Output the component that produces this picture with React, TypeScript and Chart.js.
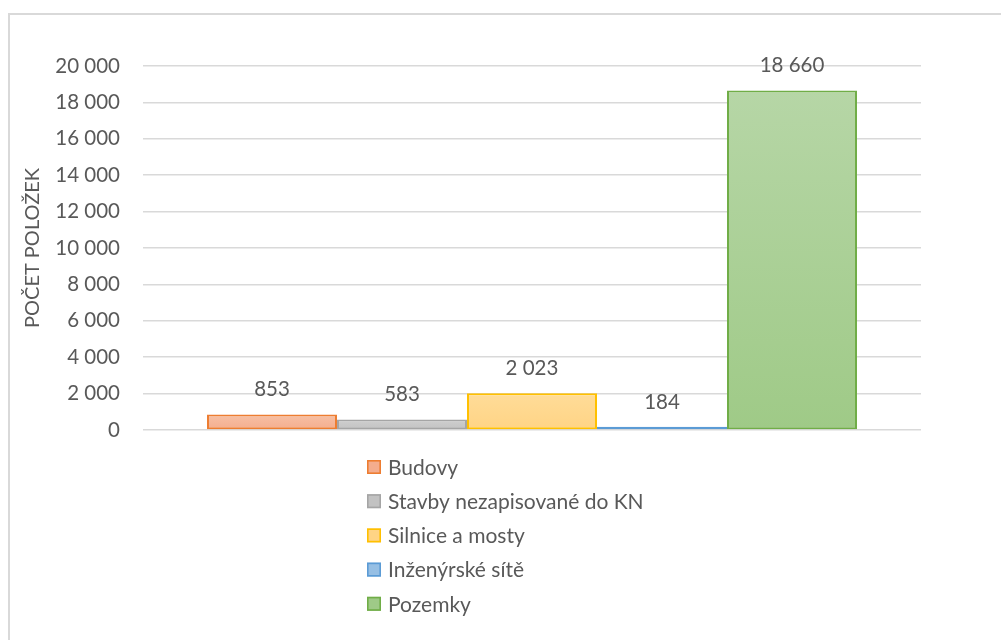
import React, { useEffect, useRef } from "react";
import { Chart, registerables } from "chart.js";

Chart.register(...registerables);

const categories = [""];
const seriesNames = ["Budovy", "Stavby nezapisované do KN", "Silnice a mosty", "Inženýrské sítě", "Pozemky"];
const seriesValues = [853, 583, 2023, 184, 18660];
const yTickMin = 0;
const yTickMax = 20000;
const yTickStep = 2000;
const axisTitle = "POČET POLOŽEK";

const fillTop = ["#F7C0A4", "#CFCFCF", "#FFDC98", "#A9CBEA", "#B6D6A6"];
const fillBottom = ["#F4AD8E", "#C2C2C2", "#FFD485", "#96BFE4", "#9FCA87"];
const borderColors = ["#ED7D31", "#A5A5A5", "#FFC000", "#5B9BD5", "#70AD47"];

const FONT = "Lato, 'Open Sans', sans-serif";
const TEXT = "#595959";

const fmt = (n: number) => String(n).replace(/\B(?=(\d{3})+(?!\d))/g, " ");

const dataLabelPlugin = {
  id: "dataLabels",
  afterDatasetsDraw(chart: any) {
    const ctx = chart.ctx;
    ctx.save();
    ctx.font = `20.5px ${FONT}`;
    ctx.fillStyle = TEXT;
    ctx.textAlign = "center";
    ctx.textBaseline = "alphabetic";
    chart.data.datasets.forEach((ds: any, i: number) => {
      const meta = chart.getDatasetMeta(i);
      meta.data.forEach((el: any, j: number) => {
        ctx.fillText(fmt(ds.data[j]), el.x, el.y - 18);
      });
    });
    ctx.restore();
  },
};

const legendPlugin = {
  id: "vertLegend",
  afterDraw(chart: any) {
    const ctx = chart.ctx;
    ctx.save();
    ctx.font = `21px ${FONT}`;
    const box = 14;
    const gap = 7;
    let maxW = 0;
    chart.data.datasets.forEach((ds: any) => {
      maxW = Math.max(maxW, ctx.measureText(ds.label).width);
    });
    const blockW = box + gap + maxW;
    const x0 = Math.round(505 - blockW / 2);
    const y0 = chart.chartArea.bottom + 37;
    const step = 34.2;
    chart.data.datasets.forEach((ds: any, i: number) => {
      const cy = y0 + i * step;
      ctx.fillStyle = fillBottom[i];
      ctx.fillRect(x0, cy - box / 2, box, box);
      ctx.strokeStyle = borderColors[i];
      ctx.lineWidth = 1.6;
      ctx.strokeRect(x0 + 0.8, cy - box / 2 + 0.8, box - 1.6, box - 1.6);
      ctx.fillStyle = TEXT;
      ctx.textAlign = "left";
      ctx.textBaseline = "middle";
      ctx.fillText(ds.label, x0 + box + gap, cy + 1);
    });
    ctx.restore();
  },
};

export default function App() {
  const ref = useRef<HTMLCanvasElement | null>(null);

  useEffect(() => {
    document.body.style.overflow = "hidden";
    const canvas = ref.current!;
    const datasets = seriesNames.map((name, i) => ({
      label: name,
      data: [seriesValues[i]],
      backgroundColor: (c: any) => {
        const chart = c.chart;
        if (!chart.chartArea || !chart.scales || !chart.scales.y) return fillBottom[i];
        const ys = chart.scales.y;
        const top = ys.getPixelForValue(seriesValues[i]);
        const bottom = ys.getPixelForValue(0);
        if (bottom - top < 2) return fillBottom[i];
        const g = chart.ctx.createLinearGradient(0, top, 0, bottom);
        g.addColorStop(0, fillTop[i]);
        g.addColorStop(1, fillBottom[i]);
        return g;
      },
      borderColor: borderColors[i],
      borderWidth: 2,
      borderSkipped: false,
      categoryPercentage: 0.8355,
      barPercentage: 1,
    }));

    const chart = new Chart(canvas, {
      type: "bar",
      data: { labels: categories, datasets },
      plugins: [dataLabelPlugin, legendPlugin],
      options: {
        responsive: false,
        animation: false,
        devicePixelRatio: 1,
        layout: { padding: { top: 66, right: 80, bottom: 210, left: 0 } },
        plugins: {
          legend: { display: false },
          tooltip: { enabled: false },
        },
        scales: {
          x: { display: false },
          y: {
            min: yTickMin,
            max: yTickMax,
            ticks: {
              stepSize: yTickStep,
              padding: 23,
              color: TEXT,
              font: { family: FONT, size: 20.5 },
              callback: (v: any) => fmt(Number(v)),
            },
            grid: { color: "#D9D9D9", lineWidth: 1.6, drawTicks: false },
            border: { display: false },
            title: {
              display: true,
              text: axisTitle,
              color: TEXT,
              font: { family: FONT, size: 20 },
              padding: { top: 21, bottom: 0 },
            },
            afterFit: (scale: any) => {
              scale.width = 143;
            },
          },
        },
      } as any,
    });
    return () => chart.destroy();
  }, []);

  return (
    <div>
      <div
        style={{
          position: "fixed",
          left: 8,
          top: 13,
          width: 1200,
          height: 800,
          border: "2px solid #D9D9D9",
          boxSizing: "border-box",
        }}
      />
      <canvas
        ref={ref}
        width={1001}
        height={640}
        style={{ position: "fixed", left: 0, top: 0, width: 1001, height: 640 }}
      />
    </div>
  );
}
